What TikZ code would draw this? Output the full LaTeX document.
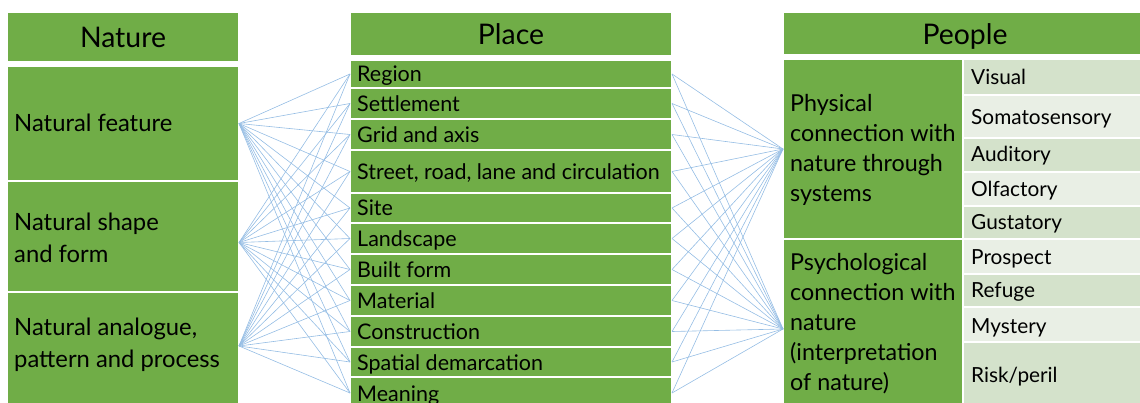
\documentclass[tikz,border=0pt]{standalone}
\usepackage{fontspec}
\setmainfont{Lato}
\usetikzlibrary{calc}
\definecolor{grn}{HTML}{70AD47}
\definecolor{lgA}{HTML}{D4E2CB}
\definecolor{lgB}{HTML}{E9EFE5}
\definecolor{ln}{HTML}{95BDE4}
\tikzset{
  cell/.style={draw=white, line width=1.2pt, fill=grn, anchor=north west, inner sep=0pt, outer sep=0pt},
  subA/.style={cell, fill=lgA},
  subB/.style={cell, fill=lgB},
  hdr/.style={anchor=base, inner sep=0pt, font=\fontsize{28.4}{30}\selectfont},
  ltxt/.style={anchor=base west, align=left, inner sep=0pt, font=\fontsize{23.8}{32}\selectfont},
  mtxt/.style={anchor=base west, inner sep=0pt, font=\fontsize{21.5}{22}\selectfont},
  rtxt/.style={anchor=base west, align=left, inner sep=0pt, font=\fontsize{23.3}{30}\selectfont},
  stxt/.style={anchor=base west, inner sep=0pt, font=\fontsize{20.8}{22}\selectfont},
  conn/.style={draw=ln, line width=0.6pt},
}
\begin{document}
\begin{tikzpicture}[x=1pt,y=-1pt]
\useasboundingbox (0,0) rectangle (1140,403);
\clip (0,0) rectangle (1140,403);
% ---- left column
\node[cell, minimum width=232pt, minimum height=50pt] (hn) at (7,12) {};
\node[hdr] (thn) at (123,48) {Nature};
\node[cell, minimum width=232pt, minimum height=115pt] (nf) at (7,66) {};
\node[ltxt] (tnf) at (14,132) {Natural feature};
\node[cell, minimum width=232pt, minimum height=111pt] (ns) at (7,181) {};
\node[ltxt] (tns) at (14,262) {Natural shape\\and form};
\node[cell, minimum width=232pt, minimum height=116pt] (na) at (7,292) {};
\node[ltxt] (tna) at (14,367) {Natural analogue,\\pattern and process};
% ---- middle column
\node[cell, minimum width=322pt, minimum height=44pt] (hp) at (350,12) {};
\node[hdr] (thp) at (511,45) {Place};
\node[cell, minimum width=322pt, minimum height=28pt] (m1) at (350,60) {};
\node[cell, minimum width=322pt, minimum height=31pt] (m2) at (350,88) {};
\node[cell, minimum width=322pt, minimum height=31pt] (m3) at (350,119) {};
\node[cell, minimum width=322pt, minimum height=43pt] (m4) at (350,150) {};
\node[cell, minimum width=322pt, minimum height=30pt] (m5) at (350,193) {};
\node[cell, minimum width=322pt, minimum height=31pt] (m6) at (350,223) {};
\node[cell, minimum width=322pt, minimum height=31pt] (m7) at (350,254) {};
\node[cell, minimum width=322pt, minimum height=31pt] (m8) at (350,285) {};
\node[cell, minimum width=322pt, minimum height=31pt] (m9) at (350,316) {};
\node[cell, minimum width=322pt, minimum height=30pt] (m10) at (350,347) {};
\node[cell, minimum width=322pt, minimum height=32pt] (m11) at (350,377) {};
\foreach \m/\t in {m1/Region,m2/Settlement,m3/Grid and axis,m4/{Street, road, lane and circulation},m5/Site,m6/Landscape,m7/Built form,m8/Material,m9/Construction,m10/Spatial demarcation,m11/Meaning}{
  \node[mtxt] (t\m) at ([xshift=7pt,yshift=-8pt]\m.west) {\t};
}
% ---- right column
\node[cell, minimum width=365pt, minimum height=43pt] (hpe) at (783,12) {};
\node[hdr] (thpe) at (965,45) {People};
\node[cell, minimum width=180pt, minimum height=180pt] (pc) at (783,59) {};
\node[rtxt] (tpc) at (790,202) {Physical\\connection with\\nature through\\systems};
\node[cell, minimum width=180pt, minimum height=172pt] (ps) at (783,239) {};
\node[rtxt] (tps) at (790,390) {Psychological\\connection with\\nature\\(interpretation\\of nature)};
\node[subA, minimum width=185pt, minimum height=36pt] (s1) at (963,59) {};
\node[subB, minimum width=185pt, minimum height=43pt] (s2) at (963,95) {};
\node[subA, minimum width=185pt, minimum height=34pt] (s3) at (963,138) {};
\node[subB, minimum width=185pt, minimum height=34pt] (s4) at (963,172) {};
\node[subA, minimum width=185pt, minimum height=33pt] (s5) at (963,206) {};
\node[subB, minimum width=185pt, minimum height=35pt] (s6) at (963,239) {};
\node[subA, minimum width=185pt, minimum height=33pt] (s7) at (963,274) {};
\node[subB, minimum width=185pt, minimum height=35pt] (s8) at (963,307) {};
\node[subA, minimum width=185pt, minimum height=69pt] (s9) at (963,342) {};
\node[stxt] (ts1) at (971,85) {Visual};
\node[stxt] (ts2) at (971,125) {Somatosensory};
\node[stxt] (ts3) at (971,162) {Auditory};
\node[stxt] (ts4) at (971,197) {Olfactory};
\node[stxt] (ts5) at (971,230) {Gustatory};
\node[stxt] (ts6) at (971,265) {Prospect};
\node[stxt] (ts7) at (971,298) {Refuge};
\node[stxt] (ts8) at (971,333) {Mystery};
\node[stxt] (ts9) at (971,382) {Risk/peril};
% ---- connectors
\foreach \m in {m1,m2,m3,m4,m5,m6,m7,m8,m9,m10,m11}{
  \draw[conn] (nf.east) -- (\m.west);
  \draw[conn] ([yshift=-6pt]ns.east) -- (\m.west);
  \draw[conn] ([yshift=4pt]na.east) -- (\m.west);
  \draw[conn] (\m.east) -- (pc.west);
  \draw[conn] (\m.east) -- ([yshift=-4pt]ps.west);
}
\end{tikzpicture}
\end{document}
